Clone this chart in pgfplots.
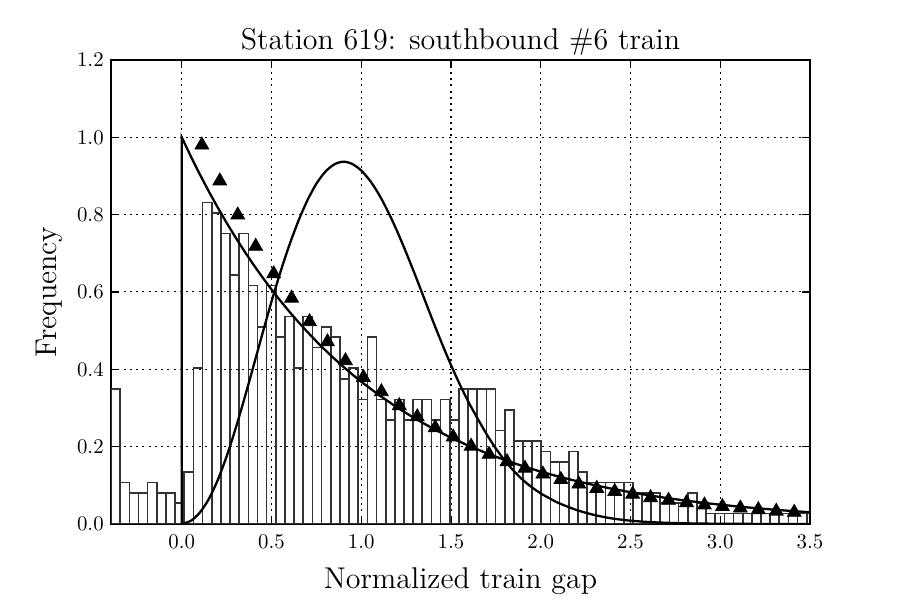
\documentclass[border=0pt]{standalone}
\usepackage{pgfplots}
\pgfplotsset{compat=1.18}

\begin{document}
\begin{tikzpicture}
\begin{axis}[
  at={(0,0)}, anchor=south west,
  scale only axis,
  width=335.5pt, height=222.7pt,
  xmin=-0.394, xmax=3.5, ymin=0, ymax=1.2,
  xtick={0,0.5,1.0,1.5,2.0,2.5,3.0,3.5},
  ytick={0,0.2,0.4,0.6,0.8,1.0,1.2},
  xticklabel style={yshift=-2pt,/pgf/number format/.cd,fixed,fixed zerofill,precision=1},
  yticklabel style={/pgf/number format/.cd,fixed,fixed zerofill,precision=1},
  tick label style={font=\fontsize{9.8}{11}\selectfont},
  tick align=inside,
  tick style={black, line width=0.6pt},
  major tick length=4pt,
  axis line style={black, line width=1pt},
  grid=major,
  major grid style={black, line width=0.5pt, dash pattern=on 1pt off 2pt},
  title={Station 619: southbound \#6 train},
  title style={font=\fontsize{14.4}{17}\selectfont, yshift=-7.5pt},
  xlabel={Normalized train gap},
  ylabel={Frequency},
  label style={font=\fontsize{14.4}{17}\selectfont},
  xlabel style={yshift=-2pt},
  clip marker paths=true,
]

% histogram of normalized gaps (left bin edges, density)
\addplot[ybar interval, draw=black!80, line width=0.8pt, fill=none] coordinates {
(-0.394,0.3488) (-0.343,0.1073) (-0.292,0.0805) (-0.241,0.0805)
(-0.190,0.1073) (-0.139,0.0805) (-0.088,0.0805) (-0.037,0.0537)
(0.014,0.1342) (0.065,0.4025) (0.116,0.8317) (0.167,0.8049)
(0.218,0.7512) (0.269,0.6439) (0.320,0.7512) (0.371,0.6171)
(0.422,0.5098) (0.473,0.6171) (0.524,0.4829) (0.575,0.5366)
(0.626,0.4025) (0.677,0.5366) (0.728,0.4561) (0.779,0.5098)
(0.830,0.4829) (0.881,0.3756) (0.932,0.4025) (0.983,0.3220)
(1.034,0.4829) (1.085,0.3220) (1.136,0.2683) (1.187,0.3220)
(1.238,0.2683) (1.289,0.3220) (1.340,0.3220) (1.391,0.2683)
(1.442,0.3220) (1.493,0.2683) (1.544,0.3488) (1.595,0.3488)
(1.646,0.3488) (1.697,0.3488) (1.748,0.2415) (1.799,0.2951)
(1.850,0.2146) (1.901,0.2146) (1.952,0.2146) (2.003,0.1878)
(2.054,0.1610) (2.105,0.1610) (2.156,0.1878) (2.207,0.1342)
(2.258,0.1073) (2.309,0.1073) (2.360,0.1073) (2.411,0.1073)
(2.462,0.1073) (2.513,0.0805) (2.564,0.0805) (2.615,0.0805)
(2.666,0.0537) (2.717,0.0537) (2.768,0.0537) (2.819,0.0805)
(2.870,0.0537) (2.921,0.0268) (2.972,0.0268) (3.023,0.0268)
(3.074,0.0268) (3.125,0.0268) (3.176,0.0268) (3.227,0.0268)
(3.278,0.0268) (3.329,0.0268) (3.380,0.0268) (3.431,0.0268)
(3.482,0.0268) (3.533,0)
};

% exponential reference density
\addplot[black, line width=1.1pt] coordinates {
(0,0) (0,1) (0.05,0.9512) (0.1,0.9048) (0.15,0.8607) (0.2,0.8187)
(0.25,0.7788) (0.3,0.7408) (0.35,0.7047) (0.4,0.6703) (0.45,0.6376)
(0.5,0.6065) (0.55,0.5769) (0.6,0.5488) (0.65,0.5220) (0.7,0.4966)
(0.75,0.4724) (0.8,0.4493) (0.85,0.4274) (0.9,0.4066) (0.95,0.3867)
(1.0,0.3679) (1.1,0.3329) (1.2,0.3012) (1.3,0.2725) (1.4,0.2466)
(1.5,0.2231) (1.6,0.2019) (1.7,0.1827) (1.8,0.1653) (1.9,0.1496)
(2.0,0.1353) (2.1,0.1225) (2.2,0.1108) (2.3,0.1003) (2.4,0.0907)
(2.5,0.0821) (2.6,0.0743) (2.7,0.0672) (2.8,0.0608) (2.9,0.0550)
(3.0,0.0498) (3.1,0.0450) (3.2,0.0408) (3.3,0.0369) (3.4,0.0334)
(3.5,0.0302)
};

% regular-service density
\addplot[black, line width=1.1pt, smooth, tension=0.5] coordinates {
(0.00,0.000) (0.05,0.008) (0.10,0.029) (0.15,0.064) (0.20,0.113)
(0.25,0.175) (0.30,0.247) (0.35,0.326) (0.40,0.409) (0.45,0.493)
(0.50,0.575) (0.55,0.652) (0.60,0.722) (0.65,0.784) (0.70,0.837)
(0.75,0.880) (0.80,0.911) (0.85,0.930) (0.90,0.937) (0.95,0.931)
(1.00,0.914) (1.05,0.887) (1.10,0.851) (1.15,0.807) (1.20,0.757)
(1.25,0.702) (1.30,0.644) (1.35,0.584) (1.40,0.524) (1.45,0.466)
(1.50,0.411) (1.55,0.360) (1.60,0.313) (1.65,0.271) (1.70,0.231)
(1.75,0.195) (1.80,0.164) (1.85,0.137) (1.90,0.114) (1.95,0.095)
(2.00,0.079) (2.05,0.066) (2.10,0.054) (2.20,0.036) (2.30,0.023)
(2.40,0.014) (2.50,0.0085) (2.60,0.005) (2.70,0.003) (2.80,0.0017)
(2.90,0.001) (3.00,0.0005) (3.20,0.0001) (3.50,0.000)
};

% observed gap frequencies
\addplot[only marks, mark=triangle*, mark size=3.8pt, black] coordinates {
(0.112,0.980) (0.212,0.887) (0.312,0.799) (0.412,0.718) (0.512,0.647)
(0.612,0.584) (0.712,0.523) (0.812,0.471) (0.912,0.422) (1.012,0.379)
(1.112,0.342) (1.212,0.306) (1.312,0.277) (1.412,0.249) (1.512,0.225)
(1.612,0.201) (1.712,0.180) (1.812,0.161) (1.912,0.144) (2.012,0.129)
(2.112,0.115) (2.212,0.103) (2.312,0.092) (2.412,0.084) (2.512,0.077)
(2.612,0.068) (2.712,0.061) (2.812,0.055) (2.912,0.049) (3.012,0.045)
(3.112,0.041) (3.212,0.037) (3.312,0.033) (3.412,0.030) (3.512,0.027)
};
\end{axis}
\path[use as bounding box] (-53.3pt,-36.5pt) rectangle (378.7pt,251.5pt);
\end{tikzpicture}
\end{document}
